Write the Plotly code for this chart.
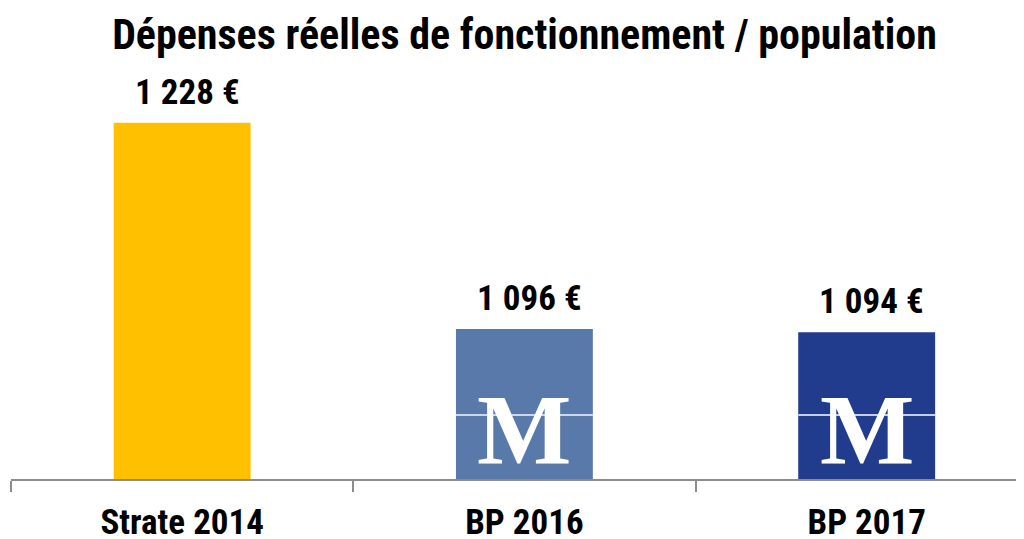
import plotly.graph_objects as go

categories = ["Strate 2014", "BP 2016", "BP 2017"]
values = [1228, 1096, 1094]
value_labels = ["1 228 €", "1 096 €", "1 094 €"]
colors = ["#FFC000", "#5879AA", "#213C8D"]
logo_bars = [False, True, True]

FONT = "Liberation Sans Narrow, Arial Narrow, Roboto Condensed, Liberation Sans, Arial, sans-serif"

fig = go.Figure()
fig.add_trace(go.Bar(
    x=categories, y=values, marker=dict(color=colors, line=dict(width=0)),
    width=0.4, showlegend=False, hoverinfo="skip",
))

# value labels above bars
for c, v, t in zip(categories, values, value_labels):
    fig.add_annotation(x=c, y=v, text="<b>" + t + "</b>", showarrow=False, yanchor="bottom",
                       yshift=8, xshift=5,
                       font=dict(family=FONT, size=35, color="#000000"))

# "M" logo decoration on blue bars
for i, (c, has_logo) in enumerate(zip(categories, logo_bars)):
    if not has_logo:
        continue
    fig.add_shape(type="line", xref="x", yref="y domain",
                  x0=i - 0.2, x1=i + 0.2, y0=0.153, y1=0.153,
                  line=dict(color="rgba(225,232,245,0.85)", width=2), layer="above")
    fig.add_annotation(x=c, xref="x", yref="y domain", y=0.0, yanchor="bottom",
                       yshift=-8, text="<b>M</b>", showarrow=False,
                       font=dict(family="Liberation Serif, Times New Roman, serif",
                                 size=100, color="#FFFFFF"))

fig.update_layout(
    width=1024, height=539,
    margin=dict(l=3, r=0, t=52, b=68),
    paper_bgcolor="#FFFFFF", plot_bgcolor="#FFFFFF",
    title=dict(text="<b>Dépenses réelles de fonctionnement / population</b>",
               x=0.5044, xanchor="center", y=0.952, yanchor="middle",
               font=dict(family=FONT, size=42, color="#000000")),
    bargap=0.6,
)
fig.update_xaxes(
    type="category", range=[-0.5, 2.483],
    showline=True, linecolor="#8C8C8C", linewidth=2,
    ticks="outside", tickson="boundaries", ticklen=11, tickwidth=2, tickcolor="#8C8C8C",
    tickfont=dict(family=FONT, size=35, color="#000000"),
    tickprefix="<b>", ticksuffix="</b>", ticklabelstandoff=11,
    showgrid=False, zeroline=False,
)
fig.update_yaxes(range=[1000, 1268.2], visible=False, showgrid=False, zeroline=False)

fig.write_html("out.html")
